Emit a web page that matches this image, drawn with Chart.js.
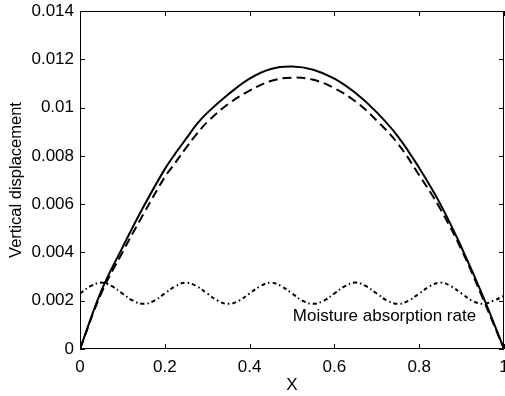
<!DOCTYPE html>
<html>
<head>
<meta charset="utf-8">
<script src="https://cdn.jsdelivr.net/npm/chart.js@4.4.1/dist/chart.umd.min.js"></script>
<style>
html, body { margin: 0; padding: 0; background: #fff; }
#wrap { width: 505px; height: 396px; }
</style>
</head>
<body>
<div id="wrap"><canvas id="line-chart"></canvas></div>
<script>
// values
const xMain = [0, 0.05, 0.1, 0.15, 0.2, 0.225, 0.25, 0.275, 0.3, 0.35, 0.4, 0.45, 0.5,
	0.55, 0.6, 0.65, 0.7, 0.75, 0.8, 0.85, 0.9, 0.95, 1];
const solidVals = [0, 0.0024, 0.0042, 0.0059, 0.00745, 0.0081, 0.0087, 0.0093, 0.00978, 0.01055, 0.0112, 0.0116, 0.0117,
	0.01157, 0.0112, 0.0106, 0.0098, 0.0088, 0.0075, 0.0060, 0.0042, 0.0022, 0];
const dashedVals = [0, 0.0023, 0.0040, 0.0056, 0.00712, 0.00772, 0.00833, 0.0089, 0.0094, 0.01015, 0.0107, 0.0111, 0.01124,
	0.01115, 0.0108, 0.01025, 0.00946, 0.0085, 0.0072, 0.0058, 0.0041, 0.0021, 0];
const xMoist = [0, 0.025, 0.05, 0.075, 0.1, 0.125, 0.15, 0.175, 0.2, 0.225, 0.25, 0.275, 0.3, 0.325,
	0.35, 0.375, 0.4, 0.425, 0.45, 0.475, 0.5, 0.525, 0.55, 0.575, 0.6, 0.625, 0.65, 0.675,
	0.7, 0.725, 0.75, 0.775, 0.8, 0.825, 0.85, 0.875, 0.9, 0.925, 0.95, 0.975, 1];
const moistVals = [0.0023, 0.0026, 0.00275, 0.0026, 0.0023, 0.0020, 0.00187, 0.0020, 0.0023, 0.0026,
	0.00275, 0.0026, 0.0023, 0.0020, 0.00187, 0.0020, 0.0023, 0.0026, 0.00275, 0.0026,
	0.0023, 0.0020, 0.00187, 0.0020, 0.0023, 0.0026, 0.00275, 0.0026, 0.0023, 0.0020,
	0.00187, 0.0020, 0.0023, 0.0026, 0.00275, 0.0026, 0.0023, 0.0020, 0.00187, 0.0020, 0.0022];
const xTicks = [0, 0.2, 0.4, 0.6, 0.8, 1];
const yTicks = [0, 0.002, 0.004, 0.006, 0.008, 0.01, 0.012, 0.014];
const noteText = 'Moisture absorption rate';

const FONT = '"Liberation Sans", Arial, sans-serif';

function pts(xs, ys){
	return xs.map((v, i) => ({x: v, y: ys[i]}));
}

// box + inward ticks + text label
const frame = {
	id: 'frame',
	afterDatasetsDraw(chart){
		const {ctx, chartArea: a, scales: {x, y}} = chart;
		ctx.save();
		ctx.strokeStyle = '#000';
		ctx.lineWidth = 1;
		ctx.setLineDash([]);
		ctx.strokeRect(Math.round(a.left) + 0.5, Math.round(a.top) + 0.5,
			Math.round(a.right - a.left) - 1, Math.round(a.bottom - a.top) - 1);
		ctx.beginPath();
		xTicks.forEach(v => {
			const px = Math.round(x.getPixelForValue(v)) + 0.5;
			ctx.moveTo(px, a.bottom); ctx.lineTo(px, a.bottom - 5);
			ctx.moveTo(px, a.top); ctx.lineTo(px, a.top + 5);
		});
		yTicks.forEach(v => {
			const py = Math.round(y.getPixelForValue(v)) + 0.5;
			ctx.moveTo(a.left, py); ctx.lineTo(a.left + 5, py);
			ctx.moveTo(a.right, py); ctx.lineTo(a.right - 5, py);
		});
		ctx.stroke();
		ctx.fillStyle = '#000';
		ctx.font = '17px ' + FONT;
		ctx.textBaseline = 'middle';
		ctx.fillText(noteText, x.getPixelForValue(0.502), y.getPixelForValue(0.00137));
		ctx.restore();
	}
};

let chart = new Chart(document.getElementById("line-chart"), {
	type: 'line',
	data: {
		datasets: [
			{data: pts(xMain, solidVals), borderColor: '#000', borderWidth: 2, pointRadius: 0, tension: 0.4, fill: false},
			{data: pts(xMain, dashedVals), borderColor: '#000', borderWidth: 2, borderDash: [9, 5], pointRadius: 0, tension: 0.4, fill: false},
			{data: pts(xMoist, moistVals), borderColor: '#000', borderWidth: 2, borderDash: [4, 3, 1.5, 3], pointRadius: 0, tension: 0.4, fill: false}
		]
	},
	options: {
		animation: false,
		responsive: true,
		maintainAspectRatio: false,
		layout: {padding: {top: 11, right: 1, left: 0, bottom: 0}},
		plugins: {legend: {display: false}, tooltip: {enabled: false}},
		scales: {
			x: {
				type: 'linear', min: 0, max: 1,
				afterFit(s){ s.height = 47; s.paddingLeft = 0; s.paddingRight = 0; },
				afterBuildTicks(s){ s.ticks = xTicks.map(v => ({value: v})); },
				grid: {display: false, drawTicks: false}, border: {display: false},
				ticks: {color: '#000', font: {family: FONT, size: 17}, padding: 8, maxRotation: 0,
					callback: v => String(+v.toFixed(3))},
				title: {display: true, text: 'X', color: '#000', font: {family: FONT, size: 17}, padding: {top: 0, bottom: 0}}
			},
			y: {
				type: 'linear', min: 0, max: 0.014,
				afterFit(s){ s.width = 80; s.paddingTop = 0; s.paddingBottom = 0; },
				afterBuildTicks(s){ s.ticks = yTicks.map(v => ({value: v})); },
				grid: {display: false, drawTicks: false}, border: {display: false},
				ticks: {color: '#000', font: {family: FONT, size: 17}, padding: 6,
					callback: v => String(+v.toFixed(3))},
				title: {display: true, text: 'Vertical displacement', color: '#000', font: {family: FONT, size: 16.5}, padding: {top: 7, bottom: 0}}
			}
		}
	},
	plugins: [frame]
});
</script>
</body>
</html>
